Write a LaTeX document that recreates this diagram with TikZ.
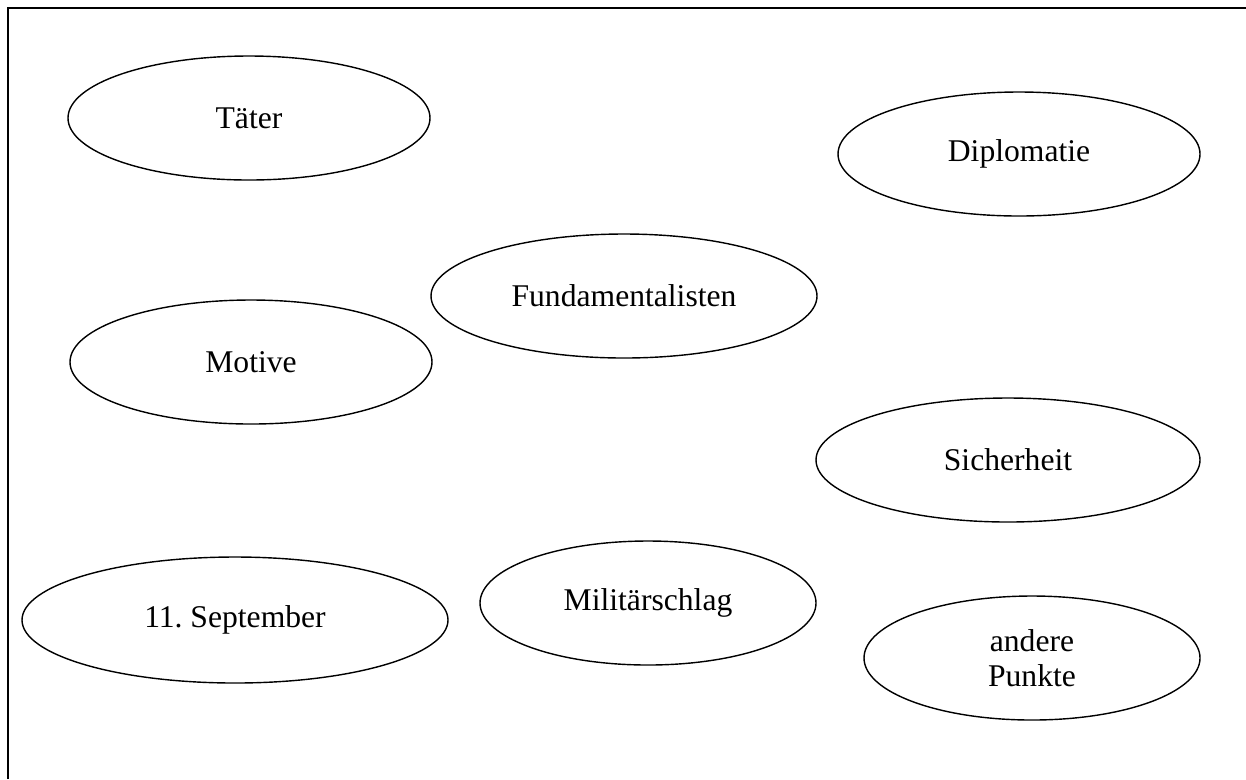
\documentclass[tikz,border=0pt]{standalone}
\usepackage{fontspec}
\setmainfont{Liberation Serif}
\usetikzlibrary{shapes.geometric}
\frenchspacing

\tikzset{
	topic/.style={draw, ellipse, line width=0.8pt, inner sep=0pt, align=center, font=\fontsize{18}{20}\selectfont},
	oval/.style 2 args={minimum width=#1*0.02cm, minimum height=#2*0.02cm},
}

\begin{document}
\begin{tikzpicture}[x=0.02cm, y=-0.02cm]
\useasboundingbox (0,0) rectangle (1246,779);
\draw[line width=1.2pt] (8,779) -- (8,8) -- (1246,8);

\node[topic, oval={362}{124}] (taeter) at (249,118) {Täter};
\node[topic, oval={362}{124}] (diplomatie) at (1019,154) {Diplomatie};
\node[topic, oval={386}{124}] (fundament) at (624,296) {Fundamentalisten};
\node[topic, oval={362}{124}] (motive) at (251,362) {Motive};
\node[topic, oval={384}{124}] (sicherheit) at (1008,460) {Sicherheit};
\node[topic, oval={426}{126}] (september) at (235,620) {11. September};
\node[topic, oval={336}{124}] (militaer) at (648,603) {Militärschlag};
\node[topic, oval={336}{124}] (andere) at (1032,658) {andere\\Punkte};
\end{tikzpicture}
\end{document}
